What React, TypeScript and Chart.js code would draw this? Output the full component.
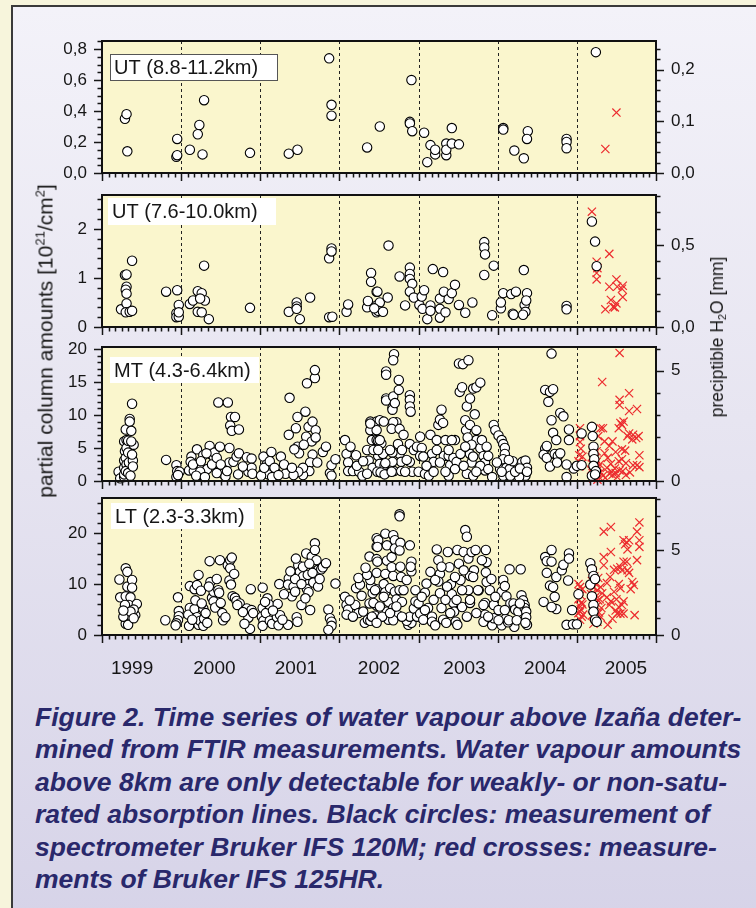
import React, { useEffect, useRef } from "react";
import { Chart, registerables } from "chart.js";

Chart.register(...registerables);

// ---------------- data ----------------
const COLUMN_PER_MM = 3.34; // 10^21 molec/cm^2 per mm precipitable water
const xMin = 1999;
const xMax = 2006;
const yearBoundaries = [2000, 2001, 2002, 2003, 2004, 2005];
const yearLabels = ["1999", "2000", "2001", "2002", "2003", "2004", "2005"];
const yearLabelPositions = [1999.38, 2000.42, 2001.45, 2002.5, 2003.58, 2004.6, 2005.62];

const panelLabels = ["UT (8.8-11.2km)", "UT (7.6-10.0km)", "MT (4.3-6.4km)", "LT (2.3-3.3km)"];

const ut1LeftTicks = [0, 0.2, 0.4, 0.6, 0.8];
const ut1RightTicks = [0, 0.1, 0.2];
const ut2LeftTicks = [0, 1, 2];
const ut2RightTicks = [0, 0.5];
const mtLeftTicks = [0, 5, 10, 15, 20];
const mtRightTicks = [0, 5];
const ltLeftTicks = [0, 10, 20];
const ltRightTicks = [0, 5];

const ut1Circles: [number, number][] = [
  [1999.29, 0.35], [1999.31, 0.38], [1999.32, 0.14], [1999.95, 0.22], [1999.94, 0.105], [1999.95, 0.115],
  [2000.11, 0.15], [2000.23, 0.31], [2000.21, 0.25], [2000.29, 0.47], [2000.27, 0.12], [2000.87, 0.13],
  [2001.36, 0.125], [2001.47, 0.15], [2001.87, 0.74], [2001.9, 0.44], [2001.9, 0.37], [2002.35, 0.165],
  [2002.51, 0.3], [2002.91, 0.6], [2002.89, 0.33], [2002.89, 0.32], [2002.92, 0.27], [2003.07, 0.26],
  [2003.11, 0.07], [2003.15, 0.18], [2003.21, 0.12], [2003.21, 0.15], [2003.35, 0.19], [2003.35, 0.115],
  [2003.35, 0.15], [2003.42, 0.29], [2003.42, 0.19], [2003.51, 0.185], [2004.07, 0.29], [2004.07, 0.28],
  [2004.21, 0.145], [2004.33, 0.095], [2004.38, 0.27], [2004.37, 0.22], [2004.87, 0.22], [2004.87, 0.2],
  [2004.87, 0.16], [2005.24, 0.78],
];
const ut1Crosses: [number, number][] = [[2005.36, 0.155], [2005.5, 0.39]];

const ut2Circles: [number, number][] = [
  [1999.24, 0.36], [1999.29, 1.06], [1999.31, 1.07], [1999.31, 0.82], [1999.3, 0.76], [1999.31, 0.68],
  [1999.31, 0.48], [1999.3, 0.3], [1999.35, 0.31], [1999.38, 0.33], [1999.38, 1.35], [1999.81, 0.72],
  [1999.95, 0.75], [1999.94, 0.28], [1999.94, 0.2], [1999.97, 0.21], [1999.97, 0.45], [1999.97, 0.3],
  [2000.11, 0.47], [2000.15, 0.54], [2000.21, 0.73], [2000.21, 0.31], [2000.26, 0.69], [2000.26, 0.3],
  [2000.29, 1.25], [2000.3, 0.54], [2000.35, 0.16], [2000.24, 0.58], [2000.87, 0.39], [2001.36, 0.31],
  [2001.46, 0.5], [2001.46, 0.42], [2001.46, 0.37], [2001.5, 0.16], [2001.63, 0.6], [2001.87, 1.4],
  [2001.9, 1.6], [2001.9, 1.54], [2001.87, 0.2], [2001.91, 0.21], [2002.09, 0.31], [2002.11, 0.46],
  [2002.4, 1.1], [2002.4, 0.92], [2002.35, 0.4], [2002.36, 0.53], [2002.47, 0.72], [2002.47, 0.3],
  [2002.47, 0.44], [2002.48, 0.72], [2002.51, 0.5], [2002.49, 0.33], [2002.55, 0.31], [2002.44, 0.38],
  [2002.61, 0.6], [2002.62, 1.66], [2002.76, 1.03], [2002.83, 0.44], [2002.89, 1.21], [2002.89, 1.08],
  [2002.89, 0.98], [2002.92, 0.88], [2002.89, 0.72], [2002.94, 0.6], [2003.01, 0.45], [2003.04, 0.62],
  [2003.07, 0.75], [2003.05, 0.37], [2003.11, 0.16], [2003.15, 0.44], [2003.15, 0.33], [2003.18, 1.18],
  [2003.27, 0.58], [2003.27, 0.37], [2003.27, 0.19], [2003.31, 1.12], [2003.32, 0.72], [2003.34, 0.3],
  [2003.38, 0.57], [2003.42, 0.69], [2003.46, 0.86], [2003.51, 0.45], [2003.59, 0.29], [2003.68, 0.5],
  [2003.83, 1.73], [2003.83, 1.62], [2003.84, 1.48], [2003.83, 1.06], [2003.95, 1.25], [2003.93, 0.24],
  [2004.04, 0.38], [2004.04, 0.5], [2004.07, 0.69], [2004.17, 0.67], [2004.23, 0.72], [2004.19, 0.27],
  [2004.2, 0.25], [2004.33, 1.16], [2004.34, 0.45], [2004.35, 0.31], [2004.32, 0.25], [2004.37, 0.69],
  [2004.36, 0.54], [2004.87, 0.43], [2004.87, 0.36], [2005.19, 2.15], [2005.23, 1.74], [2005.25, 1.24],
];
const ut2Crosses: [number, number][] = [
  [2005.19, 2.35], [2005.41, 1.49], [2005.25, 1.33], [2005.26, 1.2], [2005.25, 1.1], [2005.25, 0.97],
  [2005.5, 0.97], [2005.41, 0.82], [2005.51, 0.82], [2005.58, 0.84], [2005.57, 0.78], [2005.43, 0.55],
  [2005.36, 0.36], [2005.46, 0.41], [2005.5, 0.48], [2005.58, 0.61], [2005.48, 0.4],
];

const mtCircles: [number, number][] = [
  [1999.21, 1.4], [1999.23, 0.4], [1999.28, 0.6], [1999.28, 1.0], [1999.28, 2.0], [1999.28, 3.1],
  [1999.29, 4.5], [1999.28, 6.0], [1999.3, 7.8], [1999.31, 6.2], [1999.31, 5.0], [1999.3, 3.5],
  [1999.31, 2.5], [1999.3, 1.5], [1999.33, 6.1], [1999.33, 4.3], [1999.34, 2.8], [1999.33, 1.2],
  [1999.35, 9.4], [1999.35, 9.0], [1999.37, 7.6], [1999.38, 11.7], [1999.4, 5.5], [1999.39, 3.1],
  [1999.39, 2.2], [1999.37, 6.0], [1999.36, 0.8], [1999.38, 4.0], [1999.81, 3.2], [1999.94, 2.4],
  [1999.95, 1.5], [1999.94, 0.6], [1999.98, 1.4], [1999.96, 0.9],
  [2000.1, 1.6], [2000.13, 3.7], [2000.12, 2.9], [2000.2, 4.8], [2000.22, 2.2], [2000.16, 1.5],
  [2000.26, 0.9], [2000.28, 3.9], [2000.36, 5.3], [2000.37, 4.1], [2000.41, 3.7], [2000.42, 4.3],
  [2000.47, 11.9], [2000.49, 5.2], [2000.51, 1.8], [2000.53, 1.1], [2000.59, 11.9], [2000.61, 5.0],
  [2000.63, 9.7], [2000.68, 9.7], [2000.62, 8.4], [2000.64, 7.6], [2000.73, 7.8], [2000.61, 2.8],
  [2000.66, 2.9], [2000.7, 3.7], [2000.73, 4.2], [2000.83, 3.6], [2000.89, 3.4], [2000.85, 1.4],
  [2000.89, 2.0], [2000.33, 1.8], [2000.24, 1.4], [2000.19, 0.8], [2000.3, 0.6], [2000.45, 1.2],
  [2000.56, 0.7], [2000.39, 2.5], [2000.15, 2.5], [2000.25, 3.0], [2000.32, 4.2], [2000.45, 3.5],
  [2000.5, 2.5], [2000.58, 1.5], [2000.72, 1.0], [2000.78, 2.2], [2000.9, 1.1],
  [2001.04, 3.7], [2001.04, 1.3], [2001.08, 2.5], [2001.14, 4.4], [2001.1, 1.0], [2001.2, 1.2],
  [2001.26, 3.7], [2001.32, 1.1], [2001.37, 12.6], [2001.36, 7.0], [2001.45, 8.0], [2001.47, 9.7],
  [2001.47, 5.2], [2001.49, 4.2], [2001.57, 10.5], [2001.58, 6.7], [2001.59, 14.8], [2001.69, 15.6],
  [2001.69, 16.8], [2001.61, 8.2], [2001.65, 6.0], [2001.66, 9.0], [2001.7, 7.7], [2001.7, 6.6],
  [2001.66, 4.0], [2001.63, 2.8], [2001.62, 1.5], [2001.54, 0.9], [2001.54, 2.0], [2001.48, 1.4],
  [2001.72, 2.8], [2001.79, 4.4], [2001.83, 5.2], [2001.88, 1.2], [2001.9, 2.4], [2001.95, 3.3],
  [2001.9, 0.8], [2001.01, 0.8], [2001.15, 0.6], [2001.42, 0.9], [2001.55, 5.5], [2001.05, 2.0],
  [2001.12, 3.0], [2001.18, 2.0], [2001.23, 0.9], [2001.3, 2.5], [2001.4, 2.0], [2001.43, 4.8],
  [2002.07, 6.2], [2002.09, 4.1], [2002.11, 2.8], [2002.11, 1.5], [2002.17, 1.5], [2002.21, 3.9],
  [2002.25, 1.4], [2002.29, 0.8], [2002.39, 9.0], [2002.39, 7.7], [2002.41, 6.2], [2002.35, 4.7],
  [2002.37, 3.1], [2002.42, 2.0], [2002.47, 9.0], [2002.47, 7.7], [2002.47, 6.2], [2002.51, 9.2],
  [2002.56, 9.0], [2002.49, 6.1], [2002.53, 5.7], [2002.47, 4.7], [2002.49, 3.8], [2002.55, 4.1],
  [2002.51, 2.6], [2002.57, 2.4], [2002.48, 1.4], [2002.52, 1.3], [2002.57, 1.0], [2002.59, 16.6],
  [2002.59, 16.1], [2002.59, 12.5], [2002.59, 12.2], [2002.68, 12.8], [2002.67, 11.1], [2002.67, 10.8],
  [2002.7, 11.8], [2002.75, 13.8], [2002.75, 15.3], [2002.69, 19.2], [2002.68, 18.3], [2002.72, 8.9],
  [2002.68, 8.9], [2002.66, 7.9], [2002.76, 7.9], [2002.81, 7.0], [2002.74, 5.6], [2002.76, 4.1],
  [2002.78, 2.9], [2002.67, 4.3], [2002.67, 2.9], [2002.69, 1.5], [2002.78, 1.5], [2002.89, 13.0],
  [2002.89, 12.3], [2002.89, 11.3], [2002.9, 10.5], [2002.89, 5.6], [2002.94, 4.7], [2002.89, 2.9],
  [2002.92, 1.4], [2002.14, 5.2], [2002.22, 2.3], [2002.3, 3.0], [2002.35, 1.1], [2002.43, 4.7],
  [2002.39, 8.7], [2002.51, 6.2], [2002.64, 4.7], [2002.49, 4.7], [2002.58, 2.7], [2002.66, 1.4],
  [2002.79, 4.7], [2002.85, 3.2], [2002.83, 1.4], [2002.98, 5.2],
  [2003.0, 1.4], [2003.02, 6.7], [2003.04, 5.0], [2003.02, 3.8], [2003.08, 1.1], [2003.15, 7.0],
  [2003.13, 0.8], [2003.17, 4.1], [2003.19, 2.9], [2003.23, 6.2], [2003.25, 8.5], [2003.29, 10.8],
  [2003.27, 9.3], [2003.31, 8.8], [2003.32, 3.8], [2003.34, 6.2], [2003.38, 3.8], [2003.4, 2.4],
  [2003.44, 3.5], [2003.38, 0.8], [2003.46, 6.2], [2003.48, 2.9], [2003.51, 17.8], [2003.56, 17.7],
  [2003.63, 18.3], [2003.52, 13.5], [2003.55, 14.2], [2003.59, 9.2], [2003.61, 11.3], [2003.65, 12.5],
  [2003.69, 14.0], [2003.73, 14.2], [2003.78, 14.9], [2003.6, 7.7], [2003.65, 8.5], [2003.71, 10.1],
  [2003.73, 7.7], [2003.73, 6.2], [2003.78, 5.0], [2003.62, 6.6], [2003.67, 5.5], [2003.65, 4.1],
  [2003.67, 2.8], [2003.61, 1.1], [2003.69, 0.8], [2003.82, 3.8], [2003.84, 2.8], [2003.84, 1.6],
  [2003.78, 2.3], [2003.88, 1.8], [2003.93, 0.6], [2003.95, 8.5], [2003.97, 7.7], [2004.01, 6.9],
  [2004.05, 6.2], [2004.07, 5.6], [2004.09, 5.0], [2004.09, 4.1], [2004.07, 3.3], [2004.03, 1.8],
  [2004.11, 2.0], [2004.07, 0.8], [2004.15, 1.8], [2004.19, 3.0], [2004.24, 1.5], [2004.31, 2.9],
  [2004.35, 3.1], [2004.37, 2.0], [2004.35, 0.8], [2004.27, 0.6], [2003.06, 3.7], [2003.1, 2.3],
  [2003.19, 1.4], [2003.23, 4.7], [2003.27, 2.8], [2003.34, 1.4], [2003.38, 4.7], [2003.42, 6.2],
  [2003.46, 1.8], [2003.53, 4.1], [2003.57, 2.3], [2003.59, 5.2], [2003.69, 3.7], [2003.73, 1.4],
  [2003.8, 6.2], [2003.86, 5.2], [2003.88, 3.8], [2003.99, 2.8], [2004.05, 1.4], [2004.14, 3.2],
  [2004.16, 0.8], [2004.22, 1.4], [2004.28, 1.9], [2004.37, 1.4],
  [2004.6, 13.8], [2004.66, 13.5], [2004.7, 13.9], [2004.68, 19.3], [2004.64, 12.0], [2004.68, 9.2],
  [2004.7, 7.3], [2004.74, 6.2], [2004.6, 4.9], [2004.58, 4.0], [2004.62, 3.5], [2004.66, 2.2],
  [2004.72, 4.1], [2004.76, 3.8], [2004.79, 10.3], [2004.83, 9.8], [2004.9, 7.8], [2004.9, 6.2],
  [2004.87, 0.6], [2004.96, 1.9], [2005.0, 2.3], [2005.06, 2.4], [2005.06, 7.2], [2005.19, 8.2],
  [2005.2, 6.8], [2005.21, 5.2], [2005.21, 4.1], [2005.22, 3.3], [2005.21, 2.3], [2005.24, 1.5],
  [2005.19, 0.8], [2005.23, 1.0], [2004.62, 5.3], [2004.75, 2.8], [2004.79, 4.2], [2004.87, 2.5],
];
const mtCrosses: [number, number][] = [
  [2005.04, 8.0], [2005.04, 6.8], [2005.04, 5.9], [2005.05, 4.9], [2005.03, 3.9], [2005.07, 3.7],
  [2005.02, 3.0], [2005.06, 2.6], [2005.03, 2.2], [2005.3, 8.0], [2005.33, 8.0], [2005.27, 6.8],
  [2005.32, 15.0], [2005.54, 19.4], [2005.66, 13.3], [2005.54, 12.3], [2005.54, 11.5], [2005.76, 10.9],
  [2005.66, 10.6], [2005.59, 9.0], [2005.55, 8.8], [2005.53, 8.0], [2005.57, 8.5], [2005.66, 7.2],
  [2005.71, 7.0], [2005.75, 6.5], [2005.78, 6.8], [2005.7, 6.3], [2005.64, 6.8], [2005.79, 3.9],
  [2005.76, 2.4], [2005.71, 2.4], [2005.79, 2.1], [2005.35, 6.0], [2005.41, 5.3], [2005.45, 6.0],
  [2005.49, 4.4], [2005.57, 4.8], [2005.61, 4.6], [2005.35, 4.2], [2005.39, 3.5], [2005.44, 1.4],
  [2005.49, 1.2], [2005.54, 1.6], [2005.57, 3.3], [2005.53, 3.0], [2005.33, 0.8], [2005.41, 1.1],
  [2005.48, 1.9], [2005.19, 3.6], [2005.21, 3.1], [2005.22, 2.7], [2005.24, 2.3], [2005.22, 1.9],
  [2005.26, 1.6], [2005.2, 1.2], [2005.24, 1.0], [2005.28, 0.6], [2005.19, 2.6], [2005.23, 3.4],
  [2005.25, 2.9], [2005.27, 2.1], [2005.21, 0.4], [2005.3, 1.3], [2005.26, 0.2], [2005.18, 1.7],
  [2005.29, 2.5], [2005.25, 4.5], [2005.2, 5.0], [2005.22, 4.0], [2005.36, 0.5], [2005.38, 2.0],
  [2005.45, 0.9], [2005.51, 0.6], [2005.58, 1.5], [2005.62, 0.9], [2005.67, 1.3], [2005.43, 2.6],
  [2005.62, 2.7],
];

const ltCircles: [number, number][] = [
  [1999.22, 10.9], [1999.23, 7.4], [1999.3, 13.1], [1999.32, 12.4], [1999.32, 9.5], [1999.38, 10.8],
  [1999.38, 9.3], [1999.3, 7.6], [1999.36, 7.4], [1999.3, 5.3], [1999.34, 5.9], [1999.32, 4.3],
  [1999.3, 3.5], [1999.34, 2.9], [1999.3, 2.2], [1999.42, 3.9], [1999.44, 6.1], [1999.4, 5.0],
  [1999.29, 5.9], [1999.27, 3.6], [1999.36, 4.6], [1999.33, 2.0], [1999.4, 3.3], [1999.27, 4.8],
  [1999.8, 2.9], [1999.96, 7.4], [1999.97, 4.7], [1999.97, 3.7], [1999.96, 2.9], [1999.94, 2.3],
  [1999.93, 1.9],
  [2000.1, 1.8], [2000.11, 9.6], [2000.11, 5.3], [2000.09, 4.0], [2000.17, 9.0], [2000.2, 9.8],
  [2000.22, 11.8], [2000.17, 5.1], [2000.2, 3.5], [2000.22, 2.0], [2000.24, 2.8], [2000.28, 1.8],
  [2000.25, 8.7], [2000.28, 5.2], [2000.29, 3.2], [2000.31, 4.3], [2000.36, 14.5], [2000.37, 10.4],
  [2000.39, 7.3], [2000.41, 6.6], [2000.43, 5.4], [2000.41, 8.5], [2000.49, 14.7], [2000.47, 8.8],
  [2000.48, 8.3], [2000.52, 4.3], [2000.53, 2.9], [2000.59, 13.7], [2000.62, 14.7], [2000.64, 15.2],
  [2000.62, 13.1], [2000.61, 10.7], [2000.63, 9.9], [2000.65, 7.6], [2000.68, 7.3], [2000.7, 6.7],
  [2000.74, 6.2], [2000.71, 5.9], [2000.83, 5.2], [2000.85, 3.4], [2000.88, 9.0], [2000.87, 1.2],
  [2000.89, 4.9], [2000.91, 4.3], [2000.14, 3.0], [2000.18, 6.8], [2000.26, 6.2], [2000.33, 2.4],
  [2000.35, 9.5], [2000.45, 11.0], [2000.5, 6.3], [2000.56, 3.5], [2000.67, 12.0], [2000.78, 4.5],
  [2000.8, 2.2],
  [2001.03, 9.3], [2001.03, 5.3], [2001.02, 3.6], [2001.04, 2.8], [2001.03, 1.8], [2001.07, 4.3],
  [2001.09, 7.2], [2001.11, 6.0], [2001.12, 2.8], [2001.15, 2.2], [2001.22, 6.1], [2001.21, 3.5],
  [2001.25, 3.9], [2001.23, 1.9], [2001.24, 10.0], [2001.35, 2.0], [2001.36, 11.1], [2001.35, 9.9],
  [2001.4, 7.6], [2001.42, 9.5], [2001.44, 8.5], [2001.46, 3.5], [2001.47, 2.6], [2001.48, 13.7],
  [2001.5, 12.4], [2001.52, 5.9], [2001.54, 13.4], [2001.56, 10.6], [2001.58, 16.0], [2001.59, 9.0],
  [2001.61, 8.4], [2001.63, 4.9], [2001.65, 15.4], [2001.67, 10.3], [2001.69, 18.0], [2001.69, 16.7],
  [2001.71, 14.7], [2001.69, 12.3], [2001.73, 12.8], [2001.73, 9.5], [2001.77, 12.9], [2001.79, 13.3],
  [2001.83, 14.1], [2001.54, 11.5], [2001.6, 11.8], [2001.44, 11.0], [2001.86, 5.0], [2001.88, 3.3],
  [2001.9, 2.6], [2001.9, 1.8], [2001.86, 1.0], [2001.95, 10.1], [2001.06, 6.5], [2001.16, 4.8],
  [2001.28, 3.0], [2001.3, 8.0], [2001.38, 12.5], [2001.45, 15.0], [2001.52, 10.0], [2001.57, 7.2],
  [2001.62, 14.0], [2001.66, 12.2], [2001.75, 11.0],
  [2002.07, 7.5], [2002.09, 5.9], [2002.11, 5.0], [2002.09, 4.0], [2002.2, 5.9], [2002.24, 4.3],
  [2002.21, 9.2], [2002.26, 9.9], [2002.24, 11.2], [2002.32, 2.4], [2002.36, 3.0], [2002.38, 15.4],
  [2002.4, 9.6], [2002.42, 8.2], [2002.38, 6.2], [2002.39, 2.8], [2002.47, 19.0], [2002.47, 17.4],
  [2002.47, 14.9], [2002.47, 12.2], [2002.47, 9.0], [2002.47, 5.8], [2002.45, 3.8], [2002.39, 10.8],
  [2002.45, 8.8], [2002.43, 6.3], [2002.41, 3.6], [2002.48, 14.4], [2002.49, 18.6], [2002.48, 17.3],
  [2002.58, 19.9], [2002.6, 17.6], [2002.6, 14.6], [2002.58, 12.0], [2002.56, 10.0], [2002.58, 8.4],
  [2002.62, 6.5], [2002.6, 4.6], [2002.62, 3.0], [2002.54, 3.6], [2002.47, 2.4], [2002.68, 19.6],
  [2002.7, 18.6], [2002.66, 15.3], [2002.7, 17.0], [2002.66, 13.3], [2002.68, 11.6], [2002.64, 9.2],
  [2002.7, 8.5], [2002.72, 7.0], [2002.68, 5.3], [2002.74, 3.9], [2002.68, 2.9], [2002.76, 23.7],
  [2002.76, 23.3], [2002.77, 13.4], [2002.78, 11.4], [2002.76, 8.8], [2002.79, 6.5], [2002.77, 18.1],
  [2002.76, 16.6], [2002.89, 17.6], [2002.91, 14.4], [2002.91, 12.5], [2002.9, 13.4], [2002.87, 2.0],
  [2002.91, 2.4], [2002.85, 2.8], [2002.89, 3.6], [2002.94, 5.2], [2002.96, 6.6], [2002.13, 6.8],
  [2002.17, 3.6], [2002.28, 7.7], [2002.3, 4.6], [2002.35, 11.8], [2002.33, 13.2], [2002.51, 5.6],
  [2002.64, 4.3], [2002.56, 7.5], [2002.72, 5.6], [2002.79, 3.6], [2002.81, 8.8], [2002.85, 10.8],
  [2002.96, 8.8], [2002.98, 3.6],
  [2003.0, 6.2], [2003.02, 4.2], [2003.06, 3.0], [2003.08, 8.3], [2003.12, 5.3], [2003.15, 12.4],
  [2003.17, 3.6], [2003.17, 2.6], [2003.21, 1.9], [2003.23, 16.8], [2003.25, 14.7], [2003.27, 12.0],
  [2003.25, 10.5], [2003.27, 8.2], [2003.29, 5.3], [2003.31, 3.0], [2003.35, 2.4], [2003.37, 16.3],
  [2003.39, 13.3], [2003.41, 10.0], [2003.42, 8.0], [2003.44, 6.3], [2003.45, 4.6], [2003.47, 2.6],
  [2003.49, 2.0], [2003.49, 16.7], [2003.51, 14.0], [2003.53, 10.8], [2003.55, 5.5], [2003.59, 20.6],
  [2003.61, 19.3], [2003.57, 16.3], [2003.63, 15.0], [2003.67, 16.3], [2003.7, 12.7], [2003.72, 16.7],
  [2003.65, 11.6], [2003.63, 8.8], [2003.65, 6.3], [2003.76, 8.8], [2003.85, 16.7], [2003.86, 14.3],
  [2003.85, 12.3], [2003.86, 10.4], [2003.84, 6.3], [2003.84, 4.0], [2003.82, 2.6], [2003.9, 8.8],
  [2003.92, 11.0], [2003.95, 5.9], [2003.93, 1.9], [2003.95, 3.3], [2004.01, 4.9], [2004.05, 8.5],
  [2004.07, 10.8], [2004.09, 9.6], [2004.05, 1.9], [2004.11, 7.6], [2004.15, 12.9], [2004.16, 6.2],
  [2004.2, 6.2], [2004.22, 5.0], [2004.21, 1.6], [2004.26, 4.6], [2004.29, 12.9], [2004.3, 7.8],
  [2004.32, 6.8], [2004.34, 5.9], [2004.34, 5.3], [2004.36, 4.6], [2004.36, 3.5], [2004.37, 2.0],
  [2004.1, 3.2], [2004.13, 2.5], [2003.04, 7.5], [2003.1, 10.1], [2003.08, 4.9], [2003.19, 6.9],
  [2003.21, 10.8], [2003.29, 13.4], [2003.34, 6.9], [2003.36, 9.5], [2003.4, 4.3], [2003.46, 11.4],
  [2003.48, 6.9], [2003.55, 8.8], [2003.57, 12.7], [2003.61, 3.6], [2003.65, 6.9], [2003.69, 11.4],
  [2003.73, 4.3], [2003.75, 8.8], [2003.8, 14.7], [2003.82, 5.9], [2003.88, 3.6], [2003.97, 7.5],
  [2004.01, 2.9], [2004.09, 4.9], [2004.14, 2.9], [2004.24, 2.9], [2004.28, 6.2], [2004.35, 2.4],
  [2004.58, 6.5], [2004.6, 15.3], [2004.62, 14.5], [2004.62, 12.2], [2004.68, 16.7], [2004.68, 14.4],
  [2004.66, 9.7], [2004.7, 9.4], [2004.72, 7.5], [2004.74, 5.1], [2004.68, 5.5], [2004.74, 11.4],
  [2004.81, 12.7], [2004.83, 13.8], [2004.9, 16.0], [2004.9, 15.0], [2004.89, 10.7], [2004.87, 2.0],
  [2004.94, 4.9], [2004.95, 2.1], [2005.0, 2.1], [2005.02, 8.0], [2005.17, 14.1], [2005.19, 12.9],
  [2005.21, 11.6], [2005.17, 9.9], [2005.19, 7.6], [2005.21, 5.9], [2005.21, 4.6], [2005.23, 3.0],
  [2005.25, 2.6], [2005.23, 11.0],
];
const ltCrosses: [number, number][] = [
  [2005.02, 10.0], [2005.04, 9.4], [2005.03, 8.5], [2005.05, 7.8], [2005.02, 7.0], [2005.06, 6.4],
  [2005.03, 5.8], [2005.05, 5.0], [2005.02, 4.3], [2005.06, 3.6], [2005.04, 3.0], [2005.07, 9.0],
  [2005.07, 6.0], [2005.04, 4.6], [2005.08, 4.0], [2005.18, 13.6], [2005.2, 12.6], [2005.22, 11.5],
  [2005.19, 10.6], [2005.24, 10.0], [2005.21, 9.3], [2005.26, 8.8], [2005.18, 8.0], [2005.23, 7.4],
  [2005.27, 6.8], [2005.2, 6.2], [2005.25, 5.6], [2005.22, 5.0], [2005.28, 4.4], [2005.19, 3.8],
  [2005.24, 3.2], [2005.26, 2.6], [2005.21, 2.2], [2005.3, 9.4], [2005.29, 7.0], [2005.31, 5.3],
  [2005.3, 3.6], [2005.32, 8.2], [2005.27, 11.2], [2005.34, 20.3], [2005.43, 21.2], [2005.43, 16.3],
  [2005.34, 15.3], [2005.34, 13.7], [2005.42, 11.4], [2005.38, 10.2], [2005.51, 13.0], [2005.53, 10.0],
  [2005.55, 9.2], [2005.59, 18.6], [2005.61, 17.8], [2005.63, 18.2], [2005.66, 18.6], [2005.64, 16.8],
  [2005.55, 13.3], [2005.57, 12.7], [2005.59, 14.4], [2005.63, 14.4], [2005.64, 12.7], [2005.66, 12.2],
  [2005.7, 10.4], [2005.72, 9.8], [2005.76, 14.7], [2005.79, 22.1], [2005.76, 20.3], [2005.79, 18.6],
  [2005.79, 17.3], [2005.73, 3.9], [2005.55, 4.2], [2005.53, 5.5], [2005.57, 5.9], [2005.49, 4.8],
  [2005.39, 2.0], [2005.41, 5.9], [2005.43, 6.6], [2005.47, 8.5], [2005.59, 6.6], [2005.59, 4.2],
  [2005.51, 4.2], [2005.45, 3.2], [2005.38, 7.4], [2005.47, 12.8], [2005.68, 9.0], [2005.5, 7.0],
];

const captionLines = [
  "Figure 2. Time series of water vapour above Izaña deter-",
  "mined from FTIR measurements. Water vapour amounts",
  "above 8km are only detectable for weakly- or non-satu-",
  "rated absorption lines. Black circles: measurement of",
  "spectrometer Bruker IFS 120M; red crosses: measure-",
  "ments of Bruker IFS 125HR.",
];

// ---------------- styling / layout ----------------
const FONT = '"Liberation Sans", Arial, Helvetica, sans-serif';
const PAD_TOP = 12;
const PLOT_BG = "#faf6cd";
const INK = "#161616";

type Box = { dx: number; dy: number; w: number; h: number; border: boolean };
type PanelCfg = {
  label: string;
  circles: [number, number][];
  crosses: [number, number][];
  leftMax: number;
  leftTicks: number[];
  leftMinor: number;
  leftMajor: number;
  leftDec: number;
  rightTicks: number[];
  rightMinor: number;
  rightMajor: number;
  rightDec: number;
  top: number;
  height: number;
  showYears: boolean;
  box: Box;
};

const panels: PanelCfg[] = [
  {
    label: panelLabels[0], circles: ut1Circles, crosses: ut1Crosses,
    leftMax: 0.852, leftTicks: ut1LeftTicks, leftMinor: 0.05, leftMajor: 0.2, leftDec: 1,
    rightTicks: ut1RightTicks, rightMinor: 0.02, rightMajor: 0.1, rightDec: 1,
    top: 41, height: 132, showYears: false, box: { dx: 8, dy: 13, w: 167, h: 26, border: true },
  },
  {
    label: panelLabels[1], circles: ut2Circles, crosses: ut2Crosses,
    leftMax: 2.69, leftTicks: ut2LeftTicks, leftMinor: 0.2, leftMajor: 1, leftDec: 0,
    rightTicks: ut2RightTicks, rightMinor: 0.1, rightMajor: 0.5, rightDec: 1,
    top: 195, height: 132, showYears: false, box: { dx: 6, dy: 3, w: 168, h: 27, border: false },
  },
  {
    label: panelLabels[2], circles: mtCircles, crosses: mtCrosses,
    leftMax: 20.3, leftTicks: mtLeftTicks, leftMinor: 1, leftMajor: 5, leftDec: 0,
    rightTicks: mtRightTicks, rightMinor: 1, rightMajor: 5, rightDec: 0,
    top: 347, height: 134, showYears: false, box: { dx: 8, dy: 10, w: 149, h: 26, border: false },
  },
  {
    label: panelLabels[3], circles: ltCircles, crosses: ltCrosses,
    leftMax: 26.9, leftTicks: ltLeftTicks, leftMinor: 2, leftMajor: 10, leftDec: 0,
    rightTicks: ltRightTicks, rightMinor: 1, rightMajor: 5, rightDec: 0,
    top: 498, height: 137, showYears: true, box: { dx: 9, dy: 5, w: 143, h: 26, border: false },
  },
];

function fmt(v: number, dec: number) {
  return Number(v).toFixed(dec).replace(".", ",");
}

function isMajor(v: number, step: number) {
  const r = v / step;
  return Math.abs(r - Math.round(r)) < 1e-6;
}

function Panel({ cfg }: { cfg: PanelCfg }) {
  const ref = useRef<HTMLCanvasElement | null>(null);
  const xAxisH = cfg.showYears ? 50 : 12;
  const canvasH = PAD_TOP + cfg.height + xAxisH;

  useEffect(() => {
    if (!ref.current) return;
    const decor = {
      id: "panelDecor",
      beforeDraw(chart: any) {
        const { ctx, chartArea: a } = chart;
        ctx.save();
        ctx.fillStyle = PLOT_BG;
        ctx.fillRect(a.left, a.top, a.right - a.left, a.bottom - a.top);
        ctx.restore();
      },
      beforeDatasetsDraw(chart: any) {
        const { ctx, chartArea: a, scales } = chart;
        ctx.save();
        ctx.strokeStyle = "#222";
        ctx.lineWidth = 1;
        ctx.setLineDash([3, 3]);
        yearBoundaries.forEach((yr) => {
          const x = Math.round(scales.x.getPixelForValue(yr)) + 0.5;
          ctx.beginPath();
          ctx.moveTo(x, a.top);
          ctx.lineTo(x, a.bottom);
          ctx.stroke();
        });
        ctx.restore();
      },
      afterDatasetsDraw(chart: any) {
        const { ctx, chartArea: a, scales } = chart;
        ctx.save();
        ctx.strokeStyle = INK;
        ctx.lineWidth = 1.5;
        ctx.beginPath();
        const nMonths = Math.round((xMax - xMin) * 12);
        for (let k = 0; k <= nMonths; k++) {
          const x = Math.round(scales.x.getPixelForValue(xMin + k / 12)) + 0.5;
          const len = k % 12 === 0 ? 8 : 4.5;
          ctx.moveTo(x, a.bottom);
          ctx.lineTo(x, a.bottom + len);
        }
        const nl = Math.floor(cfg.leftMax / cfg.leftMinor + 1e-6);
        for (let k = 0; k <= nl; k++) {
          const v = k * cfg.leftMinor;
          const y = Math.round(scales.y.getPixelForValue(v)) + 0.5;
          const len = isMajor(v, cfg.leftMajor) ? 8 : 4.5;
          ctx.moveTo(a.left, y);
          ctx.lineTo(a.left - len, y);
        }
        const rMax = cfg.leftMax / COLUMN_PER_MM;
        const nr = Math.floor(rMax / cfg.rightMinor + 1e-6);
        for (let k = 0; k <= nr; k++) {
          const v = k * cfg.rightMinor;
          const y = Math.round(scales.y2.getPixelForValue(v)) + 0.5;
          const len = isMajor(v, cfg.rightMajor) ? 8 : 4.5;
          ctx.moveTo(a.right, y);
          ctx.lineTo(a.right + len, y);
        }
        ctx.stroke();
        ctx.lineWidth = 2;
        ctx.strokeStyle = "#111";
        ctx.strokeRect(a.left, a.top, a.right - a.left, a.bottom - a.top);
        const b = cfg.box;
        const bx = a.left + b.dx;
        const by = a.top + b.dy;
        ctx.fillStyle = "#ffffff";
        ctx.fillRect(bx, by, b.w, b.h);
        if (b.border) {
          ctx.lineWidth = 1;
          ctx.strokeStyle = "#555";
          ctx.strokeRect(bx + 0.5, by + 0.5, b.w, b.h);
        }
        ctx.fillStyle = INK;
        ctx.font = `20px ${FONT}`;
        ctx.textBaseline = "middle";
        ctx.textAlign = "left";
        ctx.fillText(cfg.label, bx + 4, by + b.h / 2 + 1);
        ctx.restore();
      },
    };

    const chart = new Chart(ref.current, {
      type: "scatter",
      data: {
        datasets: [
          {
            data: cfg.circles.map(([x, y]) => ({ x, y })),
            pointStyle: "circle",
            pointRadius: 4.7,
            pointBackgroundColor: "#ffffff",
            pointBorderColor: "#000000",
            pointBorderWidth: 1.1,
            showLine: false,
            clip: false,
          } as any,
          {
            data: cfg.crosses.map(([x, y]) => ({ x, y })),
            pointStyle: "crossRot",
            pointRadius: 5.8,
            pointBorderColor: "#ec2b2e",
            pointBackgroundColor: "#ec2b2e",
            pointBorderWidth: 1.2,
            showLine: false,
            clip: false,
          } as any,
        ],
      },
      options: {
        responsive: false,
        maintainAspectRatio: false,
        animation: false,
        events: [],
        layout: { padding: { top: PAD_TOP, left: 0, right: 0, bottom: 0 }, autoPadding: false } as any,
        plugins: { legend: { display: false }, tooltip: { enabled: false } },
        scales: {
          x: {
            type: "linear",
            position: "bottom",
            min: xMin,
            max: xMax,
            grid: { display: false, drawTicks: false },
            border: { display: false },
            ticks: {
              display: cfg.showYears,
              padding: 22,
              autoSkip: false,
              maxRotation: 0,
              color: INK,
              font: { size: 19, family: FONT },
              callback: (_v: any, i: number) => yearLabels[i],
            },
            afterBuildTicks: (s: any) => {
              s.ticks = yearLabelPositions.map((v) => ({ value: v }));
            },
            afterFit: (s: any) => {
              s.height = xAxisH;
            },
          },
          y: {
            type: "linear",
            position: "left",
            min: 0,
            max: cfg.leftMax,
            grid: { display: true, drawOnChartArea: false, drawTicks: true, tickLength: 15, color: "rgba(0,0,0,0)" },
            border: { display: false },
            ticks: {
              padding: 0,
              autoSkip: false,
              color: INK,
              font: { size: 17, family: FONT },
              callback: (v: any) => fmt(v, cfg.leftDec),
            },
            afterBuildTicks: (s: any) => {
              s.ticks = cfg.leftTicks.map((v) => ({ value: v }));
            },
            afterFit: (s: any) => {
              s.width = 102;
            },
          },
          y2: {
            type: "linear",
            position: "right",
            min: 0,
            max: cfg.leftMax / COLUMN_PER_MM,
            grid: { display: true, drawOnChartArea: false, drawTicks: true, tickLength: 15, color: "rgba(0,0,0,0)" },
            border: { display: false },
            ticks: {
              padding: 0,
              autoSkip: false,
              color: INK,
              font: { size: 17, family: FONT },
              callback: (v: any) => fmt(v, cfg.rightDec),
            },
            afterBuildTicks: (s: any) => {
              s.ticks = cfg.rightTicks.map((v) => ({ value: v }));
            },
            afterFit: (s: any) => {
              s.width = 100;
            },
          },
        } as any,
      },
      plugins: [decor as any],
    });
    return () => chart.destroy();
  }, [cfg]);

  return (
    <canvas
      ref={ref}
      width={756}
      height={canvasH}
      style={{ position: "absolute", left: 0, top: cfg.top - PAD_TOP, width: 756, height: canvasH }}
    />
  );
}

export default function App() {
  Chart.defaults.font.family = FONT;
  return (
    <div
      style={{
        position: "absolute",
        left: 0,
        top: 0,
        width: 756,
        height: 908,
        overflow: "hidden",
        background: "#f7f5dc",
        fontFamily: FONT,
      }}
    >
      <div
        style={{
          position: "absolute",
          left: 11,
          top: 5,
          width: 760,
          height: 920,
          boxSizing: "border-box",
          borderLeft: "2px solid #3a3a3a",
          borderTop: "2px solid #3a3a3a",
          background: "linear-gradient(180deg, #f3f2f9 0%, #e7e5f1 45%, #d6d3e8 100%)",
        }}
      />
      {panels.map((p) => (
        <Panel key={p.label} cfg={p} />
      ))}
      <div
        style={{
          position: "absolute",
          left: 47,
          top: 341,
          transform: "translate(-50%, -50%) rotate(-90deg)",
          whiteSpace: "nowrap",
          fontSize: 21,
          lineHeight: "24px",
          color: INK,
        }}
      >
        partial column amounts [10
        <span style={{ fontSize: "0.62em", position: "relative", top: "-0.62em" }}>21</span>
        /cm
        <span style={{ fontSize: "0.62em", position: "relative", top: "-0.62em" }}>2</span>]
      </div>
      <div
        style={{
          position: "absolute",
          left: 718,
          top: 337,
          transform: "translate(-50%, -50%) rotate(-90deg)",
          whiteSpace: "nowrap",
          fontSize: 17.5,
          lineHeight: "20px",
          color: INK,
        }}
      >
        preciptible H
        <span style={{ fontSize: "0.62em", position: "relative", top: "0.3em" }}>2</span>O [mm]
      </div>
      <div
        style={{
          position: "absolute",
          left: 35,
          top: 701,
          width: 715,
          fontSize: 26.5,
          lineHeight: "32.4px",
          fontWeight: "bold",
          fontStyle: "italic",
          color: "#29286b",
          whiteSpace: "nowrap",
        }}
      >
        {captionLines.map((line, i) => (
          <div key={i}>{line}</div>
        ))}
      </div>
    </div>
  );
}
